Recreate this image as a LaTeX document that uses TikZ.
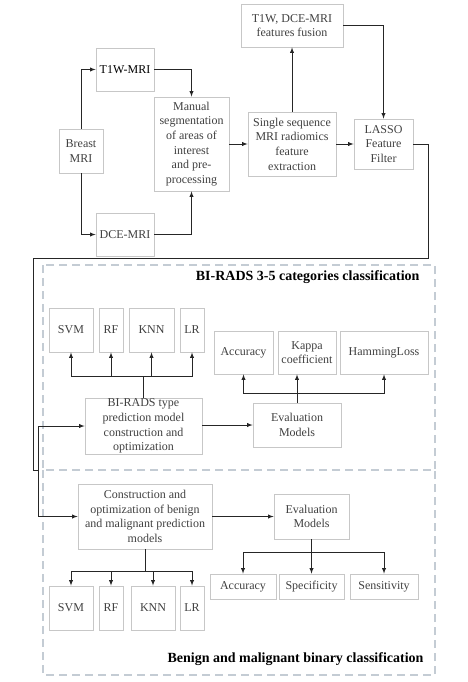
\documentclass[tikz,border=0pt]{standalone}
\usepackage{fontspec}
\setmainfont{Liberation Serif}
\usetikzlibrary{arrows}
\definecolor{framegray}{RGB}{196,204,212}

\begin{document}
\begin{tikzpicture}[x=1pt,y=-1pt,>=latex,
        box/.style={draw=black!22,line width=0.8pt,align=center,inner sep=0pt,text=black!75,font=\fontsize{12}{14.6}\selectfont},
        link/.style={line width=0.9pt,draw=black!85},
        region/.style={draw=framegray,line width=1.3pt,dash pattern=on 8pt off 5pt},
        caption/.style={anchor=east,font=\fontsize{14}{16}\selectfont\bfseries}]
            \useasboundingbox (0,0) rectangle (467,682);

            % acquisition and features
            \node[box,minimum width=102,minimum height=43] (fusion) at (292,25.5) {T1W, DCE-MRI\\features fusion};
            \node[box,minimum width=58,minimum height=43,text=black] (t1w) at (125,69.5) {T1W-MRI};
            \node[box,minimum width=44,minimum height=44] (breast) at (81,151) {Breast\\MRI};
            \node[box,minimum width=58,minimum height=43] (dce) at (125,234.5) {DCE-MRI};
            \node[box,minimum width=75,minimum height=94] (manual) at (191.5,144) {Manual\\segmentation\\of areas of\\interest\\and pre-\\processing};
            \node[box,minimum width=88,minimum height=64] (single) at (292,144) {Single sequence\\MRI radiomics\\feature\\extraction};
            \node[box,minimum width=59,minimum height=50] (lasso) at (383.5,144) {LASSO\\Feature\\Filter};

            \draw[link,->] (breast.north) |- (t1w.west);
            \draw[link,->] (breast.south) |- (dce.west);
            \draw[link,->] (t1w.east) -| (manual.north);
            \draw[link,->] (dce.east) -| (manual.south);
            \draw[link,->] (manual.east) -- (single.west);
            \draw[link,->] (single.north) -- (fusion.south);
            \draw[link,->] (fusion.east) -| (lasso.north);
            \draw[link,->] (single.east) -- (lasso.west);

            % the two classification tasks
            \draw[region] (43,265) rectangle (435,470);
            \draw[region] (43,470) rectangle (435,675);
            \node[caption] (cap1) at (423,277) {BI-RADS 3-5 categories classification};
            \node[caption] (cap2) at (427,659) {Benign and malignant binary classification};

            \coordinate (split) at (38,470);
            \draw[link] (lasso.east) -| (428,258) -| (33,470) -- (split);

            % BI-RADS 3-5
            \node[box,minimum width=44,minimum height=44] (svm1) at (71,330) {SVM};
            \node[box,minimum width=24,minimum height=44] (rf1) at (111,330) {RF};
            \node[box,minimum width=45,minimum height=44] (knn1) at (151.5,330) {KNN};
            \node[box,minimum width=24,minimum height=44] (lr1) at (192,330) {LR};
            \node[box,minimum width=117,minimum height=56] (birads) at (143.5,426) {BI-RADS type\\prediction model\\construction and\\optimization};
            \node[box,minimum width=88,minimum height=44] (eval1) at (297,425) {Evaluation\\Models};
            \node[box,minimum width=59,minimum height=43] (acc1) at (243.5,352.5) {Accuracy};
            \node[box,minimum width=58,minimum height=43] (kappa) at (307,352.5) {Kappa\\coefficient};
            \node[box,minimum width=88,minimum height=43] (hamming) at (384,352.5) {HammingLoss};

            \draw[link,->] (split |- birads.west) -- (birads.west);
            \draw[link] (birads.north) -- (143.5,376);
            \foreach \m in {svm1,rf1,knn1,lr1}
                \draw[link,->] (143.5,376) -| (\m.south);
            \draw[link,->] (birads.east |- eval1.west) -- (eval1.west);
            \draw[link] (eval1.north) -- (297,393);
            \draw[link,->] (297,393) -| (acc1.south);
            \draw[link,->] (297,393) -| (hamming.south);
            \draw[link,->] (297,393) -- (eval1 |- kappa.south);

            % benign and malignant
            \node[box,minimum width=134,minimum height=65] (cons) at (145,516.5) {Construction and\\optimization of benign\\and malignant prediction\\models};
            \node[box,minimum width=75,minimum height=45] (eval2) at (311.5,516.5) {Evaluation\\Models};
            \node[box,minimum width=66,minimum height=25] (acc2) at (243,586.5) {Accuracy};
            \node[box,minimum width=65,minimum height=25] (spec) at (311.5,586.5) {Specificity};
            \node[box,minimum width=68,minimum height=25] (sens) at (384,586.5) {Sensitivity};
            \node[box,minimum width=44,minimum height=44] (svm2) at (71,608) {SVM};
            \node[box,minimum width=24,minimum height=44] (rf2) at (111,608) {RF};
            \node[box,minimum width=44,minimum height=44] (knn2) at (153,608) {KNN};
            \node[box,minimum width=24,minimum height=44] (lr2) at (192,608) {LR};

            \draw[link] (split |- birads.west) -- (split |- cons.west);
            \draw[link,->] (split |- cons.west) -- (cons.west);
            \draw[link,->] (cons.east) -- (eval2.west);
            \draw[link] (cons.south) -- (145,571);
            \foreach \m in {svm2,rf2,knn2,lr2}
                \draw[link,->] (145,571) -| (\m.north);
            \draw[link] (eval2.south) -- (311.5,552);
            \foreach \m in {acc2,spec,sens}
                \draw[link,->] (311.5,552) -| (\m.north);
\end{tikzpicture}
\end{document}
